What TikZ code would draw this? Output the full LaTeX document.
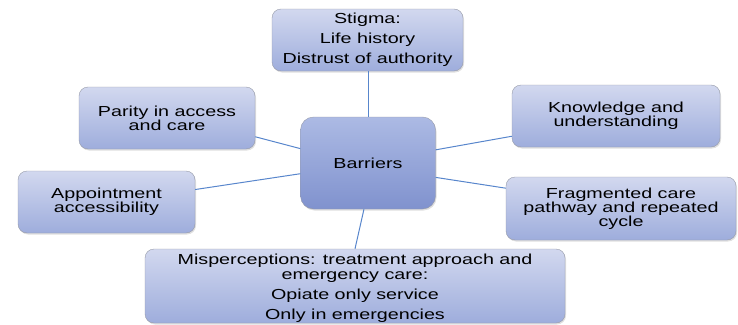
\documentclass[tikz,border=0pt]{standalone}
\usepackage{fontspec}
\setmainfont[FakeStretch=1.36]{Liberation Sans}
\usetikzlibrary{shadows}

\definecolor{boxtop}{RGB}{210,216,239}
\definecolor{boxbot}{RGB}{158,173,220}
\definecolor{hubtop}{RGB}{172,186,228}
\definecolor{hubbot}{RGB}{128,146,206}
\definecolor{rim}{RGB}{150,154,168}
\definecolor{spokeblue}{RGB}{88,134,204}

\tikzset{
  box/.style={draw=rim, rounded corners=9pt, top color=boxtop, bottom color=boxbot,
    align=center, inner sep=0pt, font=\fontsize{14.5}{14}\selectfont,
    drop shadow={opacity=0.25, shadow xshift=1pt, shadow yshift=-1.5pt}},
  hub/.style={box, rounded corners=13pt, top color=hubtop, bottom color=hubbot},
  spoke/.style={draw=spokeblue, line width=1pt}
}

\begin{document}
\begin{tikzpicture}[x=1pt, y=-1pt]
  \useasboundingbox (0,0) rectangle (738,324);

  % spokes first, boxes on top
  \node[hub, minimum width=135pt, minimum height=92pt] (barriers) at (368,163) {Barriers};
  \node[box, minimum width=191pt, minimum height=62pt] (stigma) at (367.5,40)
    {Stigma:\\[6pt] Life history\\[6pt] Distrust of authority};
  \node[box, minimum width=176pt, minimum height=62pt] (parity) at (167,118)
    {Parity in access\\ and care};
  \node[box, minimum width=177pt, minimum height=62pt] (appoint) at (106.5,202)
    {Appointment\\ accessibility};
  \node[box, minimum width=208pt, minimum height=62pt] (knowledge) at (616,116)
    {Knowledge and\\ understanding};
  \node[box, minimum width=230pt, minimum height=63pt] (fragmented) at (621,208.5)
    {Fragmented care\\ pathway and repeated\\ cycle};
  \node[box, minimum width=420pt, minimum height=74pt] (misperc) at (355,286)
    {\rule{0pt}{15pt}Misperceptions: treatment approach and\\[1pt] emergency care:\\[6pt]
     Opiate only service\\[6pt] Only in emergencies};

  \draw[spoke] (barriers.north) -- (barriers.north |- stigma.south);
  \draw[spoke] (barriers.168) -- (parity.-12);
  \draw[spoke] (barriers.-171) -- (appoint.8);
  \draw[spoke] (barriers.11) -- (knowledge.-169);
  \draw[spoke] (barriers.-12) -- (fragmented.170);
  \draw[spoke] (barriers.-95) -- (misperc.north);
\end{tikzpicture}
\end{document}
